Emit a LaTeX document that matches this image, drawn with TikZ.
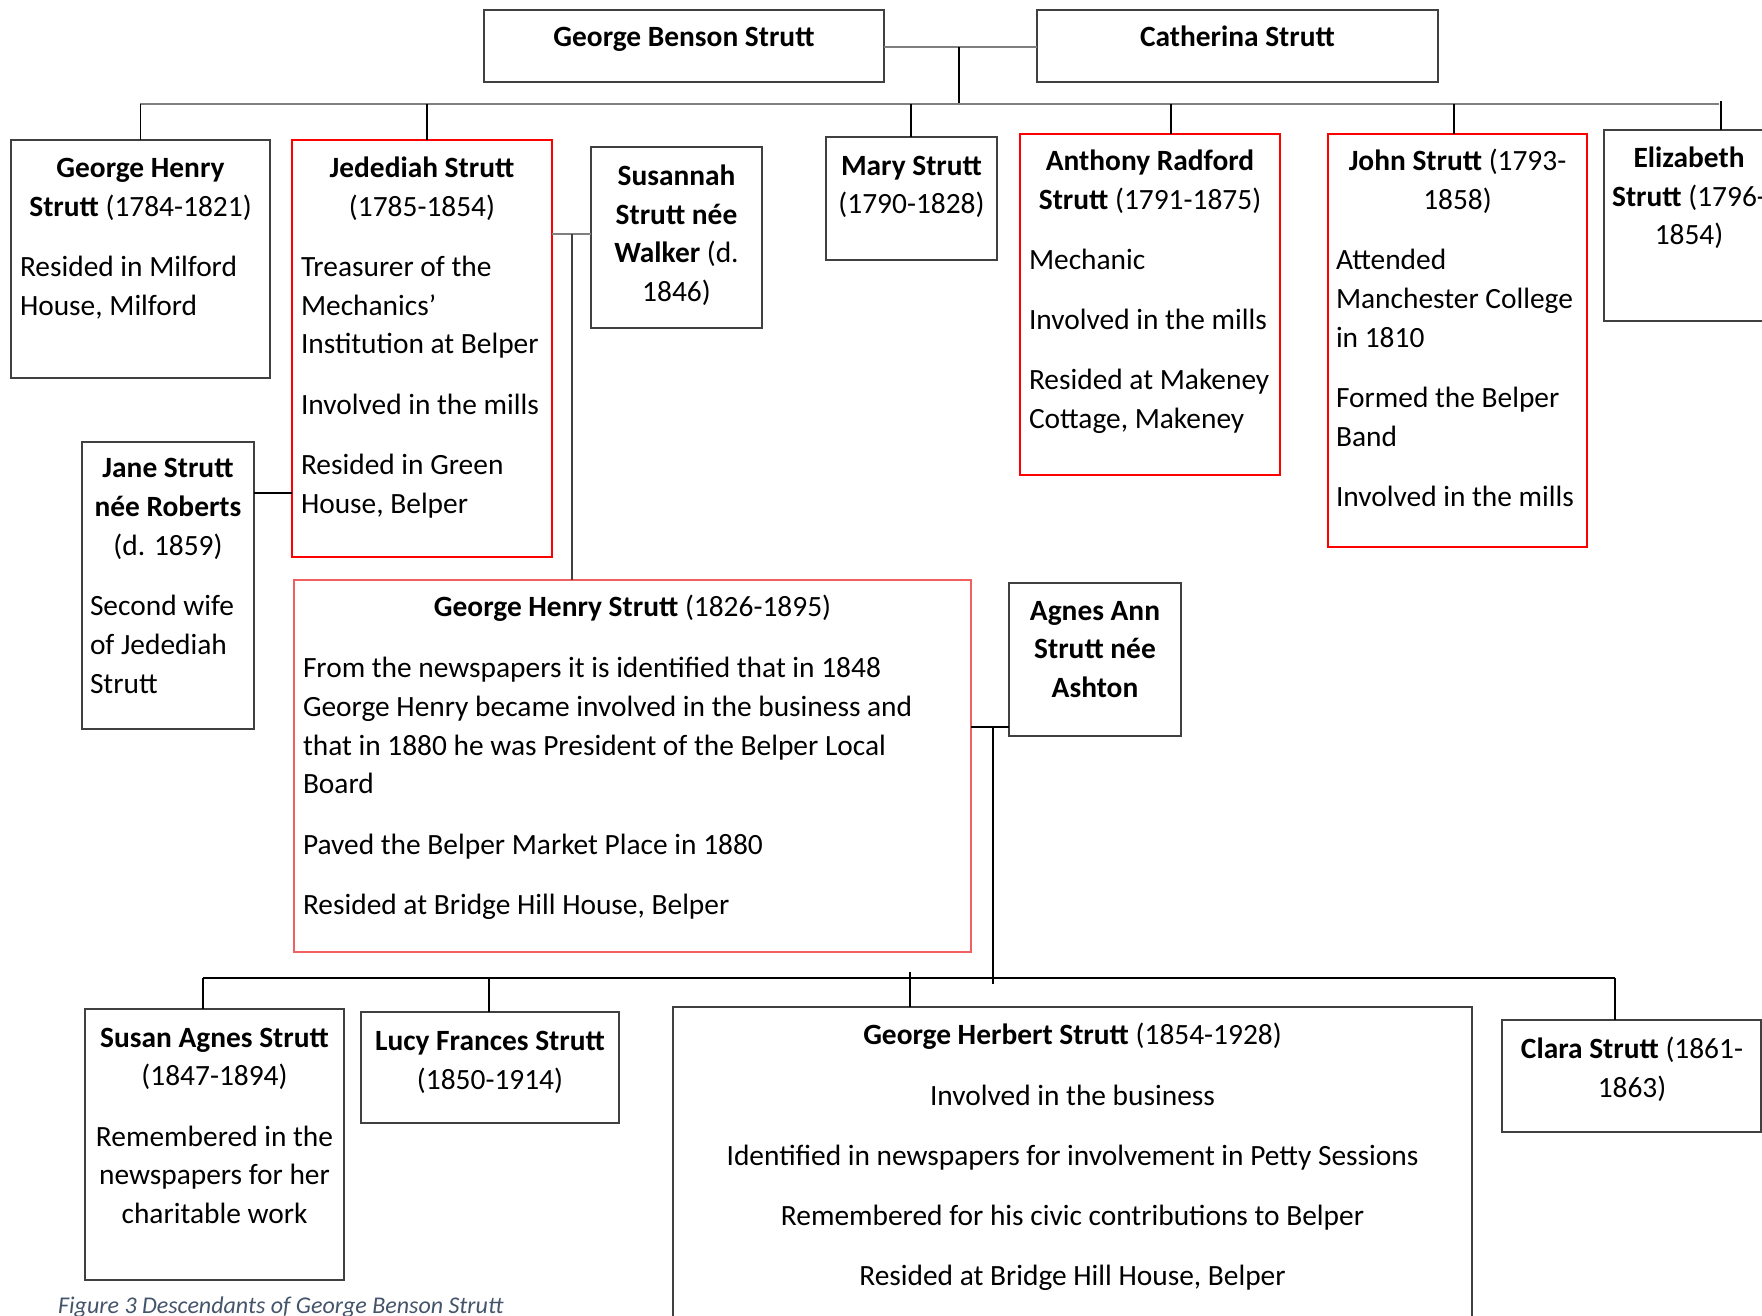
\documentclass[tikz,border=0pt]{standalone}
\usepackage{fontspec}
\setmainfont{Carlito}
\usetikzlibrary{fit,calc}
\definecolor{boxgray}{HTML}{404040}
\definecolor{busgray}{HTML}{7F7F7F}
\definecolor{pinkred}{HTML}{F06060}
\definecolor{capblue}{HTML}{44546A}
\newcommand\Pbrk{\\[21.4pt]}
\newcommand\Fl{\rule{0pt}{30pt}}
\begin{document}
\begin{tikzpicture}[x=1pt,y=-1pt,
  bx/.style={draw=boxgray, line width=1.4pt, inner sep=0pt, outer sep=0pt},
  redbx/.style={draw=red, line width=1.2pt, inner sep=0pt, outer sep=0pt},
  pinkbx/.style={draw=pinkred, line width=1.6pt, inner sep=0pt, outer sep=0pt},
  txt/.style={inner sep=0pt, outer sep=0pt, font=\fontsize{29.4}{38.8}\selectfont, yshift=28.9pt},
  ctxt/.style={txt, align=center, anchor=north},
  ltxt/.style={txt, align=left, anchor=north west},
  conn/.style={draw=black, line width=1.1pt},
  gconn/.style={draw=busgray, line width=1.5pt},
  bus/.style={draw=busgray, line width=2.2pt},
]
\useasboundingbox (0,0) rectangle (1762,1316);
\fill[white] (0,0) rectangle (1762,1316);

% ---------- boxes ----------
\node[bx, fit={(484,10) (884,82)}] (gbs) {};
\node[bx, fit={(1037,10) (1438,82)}] (cath) {};
\node[bx, fit={(11,140) (270,378)}] (ghs1) {};
\node[redbx, fit={(292,140) (552,557)}] (jed) {};
\node[bx, fit={(591,147) (762,328)}] (sus) {};
\node[bx, fit={(826,137) (997,260)}] (mary) {};
\node[redbx, fit={(1020,134) (1280,475)}] (anth) {};
\node[redbx, fit={(1328,134) (1587,547)}] (john) {};
\node[bx, fit={(1604,130) (1775,321)}] (eliz) {};
\node[bx, fit={(82,442) (254,729)}] (jane) {};
\node[pinkbx, fit={(294,580) (971,952)}] (ghs2) {};
\node[bx, fit={(1009,583) (1181,736)}] (agnes) {};
\node[bx, fit={(85,1009) (344,1280)}] (susan) {};
\node[bx, fit={(361,1012) (619,1123)}] (lucy) {};
\node[bx, fit={(673,1007) (1472,1340)}] (herb) {};
\node[bx, fit={(1502,1020) (1761,1132)}] (clara) {};

% ---------- texts (coordinates = first baseline) ----------
\node[ctxt] (tgbs) at (684,45.9) {\Fl\textbf{George Benson Strutt}};
\node[ctxt] (tcath) at (1237.5,45.9) {\Fl\textbf{Catherina Strutt}};

\node[ctxt] (tghs1a) at (140.5,176.2) {\Fl\textbf{George Henry}\\\textbf{Strutt} (1784-1821)};
\node[ltxt] (tghs1b) at (20,275.1) {\Fl Resided in Milford\\House, Milford};

\node[ctxt] (tjeda) at (422,176.2) {\Fl\textbf{Jedediah Strutt}\\(1785-1854)};
\node[ltxt] (tjedb) at (301,275.1) {\Fl Treasurer of the\\Mechanics’\\Institution at Belper\Pbrk Involved in the mills\Pbrk Resided in Green\\House, Belper};

\node[ctxt] (tsus) at (676.5,184.1) {\Fl\textbf{Susannah}\\\textbf{Strutt née}\\\textbf{Walker} (d.\\1846)};
\node[ctxt] (tmary) at (911.5,174) {\Fl\textbf{Mary Strutt}\\(1790-1828)};

\node[ctxt] (tantha) at (1150,169.5) {\Fl\textbf{Anthony Radford}\\\textbf{Strutt} (1791-1875)};
\node[ltxt] (tanthb) at (1029,268.4) {\Fl Mechanic\Pbrk Involved in the mills\Pbrk Resided at Makeney\\Cottage, Makeney};

\node[ctxt] (tjohna) at (1457.5,169.5) {\Fl\textbf{John Strutt} (1793-\\1858)};
\node[ltxt] (tjohnb) at (1336,268.4) {\Fl Attended\\Manchester College\\in 1810\Pbrk Formed the Belper\\Band\Pbrk Involved in the mills};

\node[ctxt] (teliz) at (1689,166.1) {\Fl\textbf{Elizabeth}\\\textbf{Strutt} (1796-\\1854)};

\node[ctxt] (tjanea) at (168,476.3) {\Fl\textbf{Jane Strutt}\\\textbf{née Roberts}\\(d. 1859)};
\node[ltxt] (tjaneb) at (90,614.5) {\Fl Second wife\\of Jedediah\\Strutt};

\node[ctxt] (tghs2a) at (632.5,615.6) {\Fl\textbf{George Henry Strutt} (1826-1895)};
\node[ltxt] (tghs2b) at (303,676.3) {\Fl From the newspapers it is identified that in 1848\\George Henry became involved in the business and\\that in 1880 he was President of the Belper Local\\Board\Pbrk Paved the Belper Market Place in 1880\Pbrk Resided at Bridge Hill House, Belper};

\node[ctxt] (tagnes) at (1095,619) {\Fl\textbf{Agnes Ann}\\\textbf{Strutt née}\\\textbf{Ashton}};

\node[ctxt] (tsusan) at (214.5,1046) {\Fl\textbf{Susan Agnes Strutt}\\(1847-1894)\Pbrk Remembered in the\\newspapers for her\\charitable work};
\node[ctxt] (tlucy) at (490,1049.3) {\Fl\textbf{Lucy Frances Strutt}\\(1850-1914)};
\node[ctxt] (therb) at (1072.5,1043.7) {\Fl\textbf{George Herbert Strutt} (1854-1928)\Pbrk Involved in the business\Pbrk Identified in newspapers for involvement in Petty Sessions\Pbrk Remembered for his civic contributions to Belper\Pbrk Resided at Bridge Hill House, Belper};
\node[ctxt] (tclara) at (1632,1057.2) {\Fl\textbf{Clara Strutt} (1861-\\1863)};

\node[inner sep=0pt, anchor=base west, text=capblue, font=\fontsize{24}{29}\selectfont\itshape] (cap) at (58,1313) {Figure 3 Descendants of George Benson Strutt};

% ---------- connectors ----------
\coordinate (m1) at (959,47);
\coordinate (bus1L) at (140,104);
\coordinate (bus1R) at (1719,104);
\draw[gconn] (gbs.east |- m1) -- (cath.west |- m1);
\draw[conn] (m1) -- (m1 |- bus1L);
\draw[bus] (bus1L) -- (bus1R);
\coordinate (bjed) at (427,104);
\coordinate (bmary) at (911,104);
\coordinate (banth) at (1171,104);
\coordinate (bjohn) at (1454,104);
\coordinate (beliz) at (1721,101);
\draw[conn] (ghs1.north) -- (ghs1.north |- bus1L);
\draw[conn] (bjed) -- (bjed |- jed.north);
\draw[conn] (bmary) -- (bmary |- mary.north);
\draw[conn] (banth) -- (banth |- anth.north);
\draw[conn] (bjohn) -- (bjohn |- john.north);
\draw[conn] (beliz) -- (beliz |- eliz.north);

% Jedediah marriages
\coordinate (m2) at (572,234);
\draw[gconn] (jed.east |- m2) -- (sus.west |- m2);
\draw[conn, draw=boxgray] (m2) -- (m2 |- ghs2.north);
\coordinate (m3) at (270,493);
\draw[conn] (jane.east |- m3) -- (jed.west |- m3);

% George Henry + Agnes
\coordinate (m4) at (993,727);
\coordinate (bus2L) at (203,978);
\coordinate (bus2R) at (1615,978);
\draw[conn] (ghs2.east |- m4) -- (agnes.west |- m4);
\draw[conn] (m4) -- ($(m4 |- bus2L)+(0,6)$);
\draw[conn] (bus2L) -- (bus2R);
\coordinate (blucy) at (489,978);
\coordinate (bherb) at (910,972);
\draw[conn] (bus2L) -- (bus2L |- susan.north);
\draw[conn] (blucy) -- (blucy |- lucy.north);
\draw[conn] (bherb) -- (bherb |- herb.north);
\draw[conn] (bus2R) -- (bus2R |- clara.north);
\end{tikzpicture}
\end{document}
